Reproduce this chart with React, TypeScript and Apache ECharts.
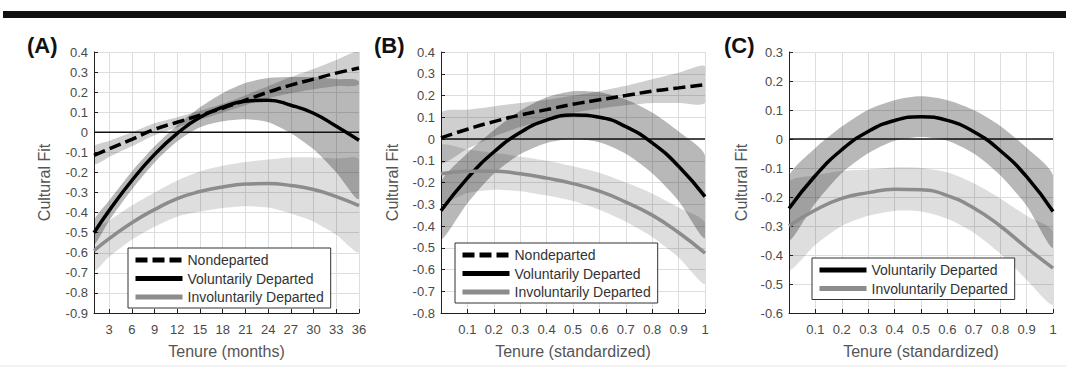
import React, { useEffect, useRef } from "react";
import * as echarts from "echarts";

// ---------- data ----------
const monthsA = [1, 3, 6, 9, 12, 15, 18, 21, 24, 27, 30, 33, 36];
const xTicksA = [3, 6, 9, 12, 15, 18, 21, 24, 27, 30, 33, 36];

const ndA = [-0.115, -0.083, -0.035, 0.015, 0.05, 0.085, 0.12, 0.16, 0.2, 0.235, 0.265, 0.295, 0.32];
const ndA_lo = [-0.16, -0.123, -0.07, -0.015, 0.025, 0.063, 0.098, 0.135, 0.17, 0.195, 0.215, 0.23, 0.24];
const ndA_up = [-0.07, -0.043, 0.0, 0.045, 0.075, 0.107, 0.142, 0.185, 0.23, 0.275, 0.315, 0.36, 0.4];

const volA = [-0.5, -0.39, -0.24, -0.11, -0.005, 0.075, 0.125, 0.155, 0.16, 0.135, 0.095, 0.03, -0.04];
const volA_lo = [-0.56, -0.44, -0.285, -0.15, -0.045, 0.025, 0.055, 0.065, 0.05, -0.005, -0.085, -0.2, -0.33];
const volA_up = [-0.44, -0.34, -0.195, -0.07, 0.035, 0.125, 0.195, 0.245, 0.27, 0.275, 0.275, 0.265, 0.25];

const invA = [-0.59, -0.53, -0.45, -0.385, -0.33, -0.295, -0.272, -0.258, -0.255, -0.265, -0.285, -0.32, -0.365];
const invA_lo = [-0.69, -0.62, -0.535, -0.47, -0.42, -0.395, -0.377, -0.368, -0.375, -0.405, -0.445, -0.51, -0.595];
const invA_up = [-0.49, -0.44, -0.365, -0.3, -0.24, -0.195, -0.167, -0.148, -0.135, -0.125, -0.125, -0.13, -0.135];

const tenureStd = [0, 0.1, 0.2, 0.3, 0.4, 0.5, 0.6, 0.7, 0.8, 0.9, 1];

const ndB = [0.005, 0.045, 0.08, 0.11, 0.135, 0.16, 0.18, 0.2, 0.22, 0.235, 0.25];
const ndB_lo = [-0.11, -0.045, 0.01, 0.055, 0.09, 0.12, 0.14, 0.155, 0.165, 0.165, 0.165];
const ndB_up = [0.12, 0.135, 0.15, 0.165, 0.18, 0.2, 0.22, 0.245, 0.275, 0.305, 0.335];

const volB = [-0.33, -0.18, -0.06, 0.03, 0.087, 0.11, 0.1, 0.057, -0.018, -0.125, -0.265];
const volB_lo = [-0.46, -0.295, -0.16, -0.07, -0.018, 0.0, -0.015, -0.068, -0.158, -0.285, -0.455];
const volB_up = [-0.2, -0.065, 0.04, 0.13, 0.192, 0.22, 0.215, 0.182, 0.122, 0.035, -0.075];

const invB = [-0.16, -0.148, -0.148, -0.16, -0.18, -0.205, -0.24, -0.29, -0.35, -0.43, -0.525];
const invB_lo = [-0.29, -0.248, -0.233, -0.24, -0.26, -0.285, -0.325, -0.38, -0.45, -0.545, -0.665];
const invB_up = [-0.03, -0.048, -0.063, -0.08, -0.1, -0.125, -0.155, -0.2, -0.25, -0.315, -0.385];

const volC = [-0.24, -0.126, -0.037, 0.026, 0.064, 0.077, 0.064, 0.025, -0.04, -0.13, -0.25];
const volC_lo = [-0.35, -0.221, -0.117, -0.049, -0.006, 0.007, -0.006, -0.05, -0.125, -0.23, -0.375];
const volC_up = [-0.13, -0.031, 0.043, 0.101, 0.134, 0.147, 0.134, 0.1, 0.045, -0.03, -0.125];

const invC = [-0.3, -0.245, -0.205, -0.185, -0.173, -0.175, -0.195, -0.238, -0.3, -0.375, -0.445];
const invC_lo = [-0.45, -0.365, -0.3, -0.265, -0.248, -0.25, -0.275, -0.323, -0.395, -0.485, -0.57];
const invC_up = [-0.15, -0.125, -0.11, -0.105, -0.098, -0.1, -0.115, -0.153, -0.205, -0.265, -0.32];

const zeroA = [[1, 0], [36, 0]];
const zeroStd = [[0, 0], [1, 0]];

const yRangeA = [-0.9, 0.4];
const yRangeB = [-0.8, 0.4];
const yRangeC = [-0.6, 0.3];

const NAME_ND = "Nondeparted";
const NAME_VOL = "Voluntarily Departed";
const NAME_INV = "Involuntarily Departed";

const FONT = "'Liberation Sans', Arial, Helvetica, sans-serif";

// ---------- helpers ----------
const pairs = (xs: number[], ys: number[]) => xs.map((x, i) => [x, ys[i]]);

function band(id: string, xs: number[], lo: number[], up: number[], gi: number, fill: string) {
  return {
    type: "custom",
    name: id,
    xAxisIndex: gi,
    yAxisIndex: gi,
    silent: true,
    clip: true,
    z: 1,
    data: xs.map((x, i) => [x, lo[i], up[i]]),
    encode: { x: 0, y: [1, 2] },
    renderItem: (params: any, api: any) => {
      if (params.dataIndex !== 0) return null;
      const pts: number[][] = [];
      for (let i = 0; i < xs.length; i++) pts.push(api.coord([xs[i], lo[i]]));
      for (let i = xs.length - 1; i >= 0; i--) pts.push(api.coord([xs[i], up[i]]));
      return {
        type: "polygon",
        shape: { points: pts, smooth: 0.25 },
        style: { fill },
      };
    },
  };
}

function curve(name: string, xs: number[], ys: number[], gi: number, color: string, dashed: boolean) {
  return {
    type: "line",
    name,
    xAxisIndex: gi,
    yAxisIndex: gi,
    data: pairs(xs, ys),
    smooth: true,
    showSymbol: false,
    symbol: "none",
    silent: true,
    z: 5,
    itemStyle: { color },
    lineStyle: { color, width: 3.5, type: dashed ? [12, 5] : "solid", cap: "butt" },
  };
}

function zero(id: string, data: number[][], gi: number) {
  return {
    type: "line",
    name: id,
    xAxisIndex: gi,
    yAxisIndex: gi,
    data,
    showSymbol: false,
    symbol: "none",
    silent: true,
    z: 4,
    lineStyle: { color: "#111", width: 1.6 },
  };
}

const BAND_ND = "rgba(0,0,0,0.19)";
const BAND_VOL = "rgba(0,0,0,0.28)";
const BAND_INV = "rgba(0,0,0,0.13)";
const INV_COLOR = "#8c8c8c";

function yAxis(gi: number, range: number[], gap: number) {
  return {
    type: "value",
    gridIndex: gi,
    min: range[0],
    max: range[1],
    interval: 0.1,
    name: "Cultural Fit",
    nameLocation: "middle",
    nameGap: gap,
    nameTextStyle: { color: "#555", fontSize: 16, fontFamily: FONT },
    axisLine: { show: true, lineStyle: { color: "#222", width: 1 } },
    axisTick: { show: true, inside: true, length: 4, lineStyle: { color: "#222" } },
    axisLabel: { color: "#4a4a4a", fontSize: 13, margin: 6, fontFamily: FONT },
    splitLine: { show: true, lineStyle: { color: "#dedede", width: 1 } },
  };
}

function xAxisStd(gi: number) {
  return {
    type: "value",
    gridIndex: gi,
    min: 0,
    max: 1,
    interval: 0.1,
    name: "Tenure (standardized)",
    nameLocation: "middle",
    nameGap: 30,
    nameTextStyle: { color: "#555", fontSize: 16, fontFamily: FONT },
    axisLine: { show: true, onZero: false, lineStyle: { color: "#222", width: 1 } },
    axisTick: { show: true, inside: true, length: 4, lineStyle: { color: "#222" } },
    axisLabel: {
      color: "#4a4a4a",
      fontSize: 13,
      margin: 10,
      fontFamily: FONT,
      formatter: (v: number) => (Math.abs(v) < 1e-9 ? "" : String(Math.round(v * 10) / 10)),
    },
    splitLine: { show: true, lineStyle: { color: "#dedede", width: 1 } },
  };
}

function legend(names: string[], left: number, top: number) {
  return {
    data: names,
    orient: "vertical",
    left,
    top,
    itemWidth: 47,
    itemHeight: 14,
    itemGap: 4.5,
    padding: [5, 7, 4, 5],
    borderColor: "#333",
    borderWidth: 1,
    borderRadius: 0,
    backgroundColor: "#fff",
    selectedMode: false,
    itemStyle: { color: "rgba(0,0,0,0)", borderColor: "rgba(0,0,0,0)", borderWidth: 0, opacity: 0 },
    lineStyle: { width: 5 },
    textStyle: { fontSize: 14, color: "#333", fontFamily: FONT },
  };
}

export default function App() {
  const ref = useRef<HTMLDivElement>(null);
  useEffect(() => {
    if (!ref.current) return;
    const chart = echarts.init(ref.current, undefined, { renderer: "svg" });
    const titleStyle = { fontSize: 22, fontWeight: "bold", color: "#111", fontFamily: FONT };
    chart.setOption({
      animation: false,
      backgroundColor: "#fff",
      title: [
        { text: "(A)", left: 27, top: 34, padding: 0, textStyle: titleStyle },
        { text: "(B)", left: 374, top: 34, padding: 0, textStyle: titleStyle },
        { text: "(C)", left: 724, top: 34, padding: 0, textStyle: titleStyle },
      ],
      graphic: [
        { type: "rect", shape: { x: 3, y: 11, width: 1063, height: 7 }, style: { fill: "#111" }, silent: true },
        { type: "line", shape: { x1: 0, y1: 366, x2: 1066, y2: 366 }, style: { stroke: "#e6e6e6", lineWidth: 1 }, silent: true },
      ],
      grid: [
        { left: 94, top: 52, width: 265, height: 261 },
        { left: 441, top: 52, width: 264, height: 261 },
        { left: 789, top: 52, width: 264, height: 261 },
      ],
      xAxis: [
        {
          type: "value",
          gridIndex: 0,
          min: 1,
          max: 36,
          name: "Tenure (months)",
          nameLocation: "middle",
          nameGap: 30,
          nameTextStyle: { color: "#555", fontSize: 16, fontFamily: FONT },
          axisLine: { show: true, onZero: false, lineStyle: { color: "#222", width: 1 } },
          axisTick: { show: true, inside: true, length: 4, customValues: xTicksA, lineStyle: { color: "#222" } },
          axisLabel: { color: "#4a4a4a", fontSize: 13, margin: 10, fontFamily: FONT, customValues: xTicksA },
          splitLine: { show: true, lineStyle: { color: "#dedede", width: 1 } },
        },
        xAxisStd(1),
        xAxisStd(2),
      ],
      yAxis: [yAxis(0, yRangeA, 42), yAxis(1, yRangeB, 41), yAxis(2, yRangeC, 40)],
      legend: [
        legend([NAME_ND, NAME_VOL, NAME_INV], 128, 248),
        legend([NAME_ND, NAME_VOL, NAME_INV], 455, 243),
        legend([NAME_VOL, NAME_INV], 812, 258),
      ],
      series: [
        band("bandInvA", monthsA, invA_lo, invA_up, 0, BAND_INV),
        band("bandNdA", monthsA, ndA_lo, ndA_up, 0, BAND_ND),
        band("bandVolA", monthsA, volA_lo, volA_up, 0, BAND_VOL),
        zero("zeroA", zeroA, 0),
        curve(NAME_ND, monthsA, ndA, 0, "#000", true),
        curve(NAME_VOL, monthsA, volA, 0, "#000", false),
        curve(NAME_INV, monthsA, invA, 0, INV_COLOR, false),

        band("bandInvB", tenureStd, invB_lo, invB_up, 1, BAND_INV),
        band("bandNdB", tenureStd, ndB_lo, ndB_up, 1, BAND_ND),
        band("bandVolB", tenureStd, volB_lo, volB_up, 1, BAND_VOL),
        zero("zeroB", zeroStd, 1),
        curve(NAME_ND, tenureStd, ndB, 1, "#000", true),
        curve(NAME_VOL, tenureStd, volB, 1, "#000", false),
        curve(NAME_INV, tenureStd, invB, 1, INV_COLOR, false),

        band("bandInvC", tenureStd, invC_lo, invC_up, 2, BAND_INV),
        band("bandVolC", tenureStd, volC_lo, volC_up, 2, BAND_VOL),
        zero("zeroC", zeroStd, 2),
        curve(NAME_VOL, tenureStd, volC, 2, "#000", false),
        curve(NAME_INV, tenureStd, invC, 2, INV_COLOR, false),
      ],
    });
    return () => chart.dispose();
  }, []);
  return <div ref={ref} style={{ position: "absolute", left: 0, top: 0, width: 1066, height: 372 }} />;
}
